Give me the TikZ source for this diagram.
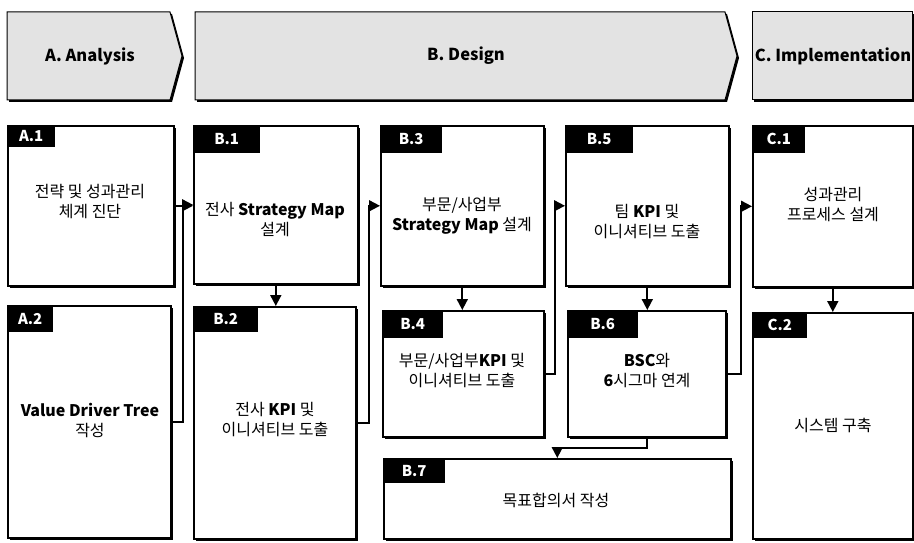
\documentclass[tikz,border=0pt]{standalone}
\usepackage{fontspec}
\setmainfont{Noto Sans CJK KR}
\usetikzlibrary{arrows.meta,shadows}
\begin{document}
\begin{tikzpicture}[x=1pt,y=-1pt,
 box/.style={draw=black,line width=1.6pt,fill=white,inner sep=0pt,anchor=north west,
   drop shadow={shadow xshift=2pt,shadow yshift=-2pt,fill=black,opacity=1}},
 tab/.style={fill=black,text=white,font=\fontsize{15}{15}\selectfont\bfseries,inner sep=0pt,anchor=north west},
 txt/.style={align=center,font=\fontsize{16}{20}\selectfont},
 conn/.style={line width=1.8pt,-{Triangle[length=11pt,width=11pt]}},
 hdr/.style={draw=black,line width=1pt,fill=gray!22,
   drop shadow={shadow xshift=2pt,shadow yshift=-2pt,fill=black,opacity=1}},
 htxt/.style={font=\fontsize{16.5}{16.5}\selectfont\bfseries}]
\useasboundingbox (0,0) rectangle (914,543);

% header arrows
\path[hdr] (7,12) -- (170,12) -- (182,56) -- (170,100) -- (7,100) -- cycle;
\path[hdr] (195,12) -- (725,12) -- (737,56) -- (725,100) -- (195,100) -- cycle;
\path[hdr] (752,12) -- (912,12) -- (912,100) -- (752,100) -- cycle;
\node[htxt] (ha) at (90,56) {A. Analysis};
\node[htxt] (hb) at (466,56) {B. Design};
\node[htxt] (hc) at (833,56) {C. Implementation};

% boxes
\node[box,minimum width=166pt,minimum height=160pt] (a1) at (7,125) {};
\node[box,minimum width=164pt,minimum height=158pt] (b1) at (193,125) {};
\node[box,minimum width=163pt,minimum height=160pt] (b3) at (380,125) {};
\node[box,minimum width=163pt,minimum height=160pt] (b5) at (565,125) {};
\node[box,minimum width=160pt,minimum height=161pt] (c1) at (752,125) {};
\node[box,minimum width=163pt,minimum height=232pt] (a2) at (7,305) {};
\node[box,minimum width=162pt,minimum height=232pt] (b2) at (193,306) {};
\node[box,minimum width=161pt,minimum height=126pt] (b4) at (382,310) {};
\node[box,minimum width=158pt,minimum height=126pt] (b6) at (567,310) {};
\node[box,minimum width=347pt,minimum height=80pt] (b7) at (383,458) {};
\node[box,minimum width=160pt,minimum height=226pt] (c2) at (752,312) {};

% tabs
\node[tab,minimum width=48pt,minimum height=22pt] (a1t) at (a1.north west) {A.1};
\node[tab,minimum width=67pt,minimum height=28pt] (b1t) at (b1.north west) {B.1};
\node[tab,minimum width=62pt,minimum height=28pt] (b3t) at (b3.north west) {B.3};
\node[tab,minimum width=68pt,minimum height=28pt] (b5t) at (b5.north west) {B.5};
\node[tab,minimum width=53pt,minimum height=28pt] (c1t) at (c1.north west) {C.1};
\node[tab,minimum width=46pt,minimum height=27pt] (a2t) at (a2.north west) {A.2};
\node[tab,minimum width=65pt,minimum height=26pt] (b2t) at (b2.north west) {B.2};
\node[tab,minimum width=61pt,minimum height=28pt] (b4t) at (b4.north west) {B.4};
\node[tab,minimum width=71pt,minimum height=28pt] (b6t) at (b6.north west) {B.6};
\node[tab,minimum width=62pt,minimum height=25pt] (b7t) at (b7.north west) {B.7};
\node[tab,minimum width=55pt,minimum height=26pt] (c2t) at (c2.north west) {C.2};

% texts
\node[txt] (a1x) at (90,202) {전략 및 성과관리\\체계 진단};
\node[txt] (b1x) at (275,220) {전사 \textbf{Strategy Map}\\설계};
\node[txt] (b3x) at (462,216) {부문/사업부\\\textbf{Strategy Map} 설계};
\node[txt] (b5x) at (647,222) {팀 \textbf{KPI} 및\\이니셔티브 도출};
\node[txt] (c1x) at (833,205) {성과관리\\프로세스 설계};
\node[txt] (a2x) at (90,420) {\textbf{Value Driver Tree}\\작성};
\node[txt] (b2x) at (275,420) {전사 \textbf{KPI} 및\\이니셔티브 도출};
\node[txt] (b4x) at (462,371) {부문/사업부\textbf{KPI} 및\\이니셔티브 도출};
\node[txt] (b6x) at (647,371) {\textbf{BSC}와\\\textbf{6}시그마 연계};
\node[txt] (b7x) at (556,500) {목표합의서 작성};
\node[txt] (c2x) at (833,425) {시스템 구축};

% connectors
\draw[conn] (a1.east) -- (a1.east -| b1.west);
\draw[conn] (a2.east) -- ++(11,0) |- (b1.west);
\draw[conn] (b2.east) -- ++(12,0) |- (b3.west);
\draw[conn] (b4.east) -- ++(10,0) |- (b5.west);
\draw[conn] (b6.east) -- ++(14,0) |- (c1.west);
\draw[conn] (b1.south) -- (b1.south |- b2.north);
\draw[conn] (b3.south) -- (b3.south |- b4.north);
\draw[conn] (b5.south) -- (b5.south |- b6.north);
\draw[conn] (c1.south) -- (c1.south |- c2.north);
\draw[conn] (b6.south) -- ++(0,10) -| (b7.north);
\end{tikzpicture}
\end{document}
